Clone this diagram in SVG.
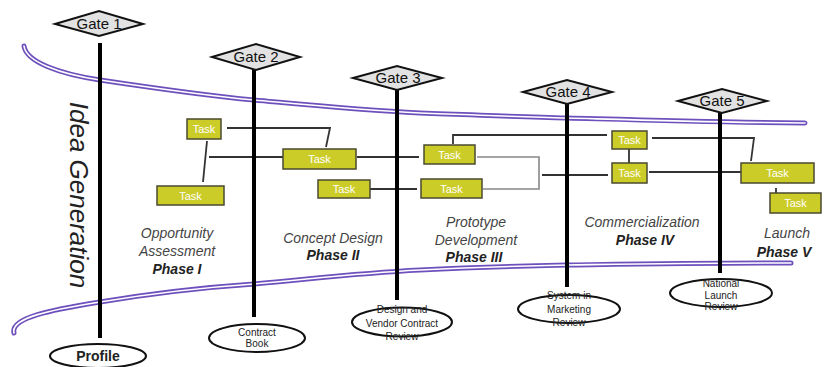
<svg xmlns="http://www.w3.org/2000/svg" width="838" height="367" viewBox="0 0 838 367">
<style>
.gate{fill:#e2e2e2;stroke:#111;stroke-width:2}
.gt{font-family:"Liberation Sans",Arial,sans-serif;font-size:15px;fill:#111;text-anchor:middle}
.pole{stroke:#000;stroke-width:4}
.ell{fill:#fff;stroke:#111;stroke-width:2}
.et{font-family:"Liberation Sans",Arial,sans-serif;font-size:10px;fill:#222;text-anchor:middle}
.task{fill:#cccc29;stroke:#4a4a30;stroke-width:1.5}
.tt{font-family:"Liberation Sans",Arial,sans-serif;font-size:11px;fill:#fff;text-anchor:middle}
.con{fill:none;stroke:#333;stroke-width:1.8}
.conl{fill:none;stroke:#888;stroke-width:1.6}
.po{fill:none;stroke:#6e50bd;stroke-width:5;stroke-linecap:round}
.pi{fill:none;stroke:#fff;stroke-width:1.6;stroke-linecap:round}
.ph{font-family:"Liberation Sans",Arial,sans-serif;font-size:14px;font-style:italic;fill:#444;text-anchor:middle}
.pb{font-family:"Liberation Sans",Arial,sans-serif;font-size:14px;font-style:italic;font-weight:bold;fill:#222;text-anchor:middle}
</style>
<rect width="838" height="367" fill="#fff"/>
<g id="curves">
<path id="topcurve" class="po" d="M24,46 C26,62 60,74 100,80 C160,89 210,96 254,100 C320,106 360,110 420,113 C480,115 520,117 567,118 C640,120 700,122 805,123"/>
<path class="pi" d="M24,46 C26,62 60,74 100,80 C160,89 210,96 254,100 C320,106 360,110 420,113 C480,115 520,117 567,118 C640,120 700,122 805,123"/>
<path id="botcurve" class="po" d="M14,333 C10,318 50,310 100,302 C160,292 210,287 254,284 C320,278 360,273 420,270 C480,267 520,266 567,265 C640,264 700,263 791,263"/>
<path class="pi" d="M14,333 C10,318 50,310 100,302 C160,292 210,287 254,284 C320,278 360,273 420,270 C480,267 520,266 567,265 C640,264 700,263 791,263"/>
</g>
<text transform="translate(70,195) rotate(90)" font-family="'Liberation Sans',Arial,sans-serif" font-size="26" font-style="italic" fill="#222" text-anchor="middle">Idea Generation</text>
<g id="connectors">
<polyline class="con" points="227,128 330,128 326,147"/>
<line class="con" x1="207" y1="141" x2="203" y2="182"/>
<line class="con" x1="209" y1="157" x2="283" y2="157"/>
<line class="con" x1="357" y1="157" x2="419" y2="157"/>
<line class="con" x1="370" y1="189" x2="417" y2="189"/>
<polyline class="con" points="453,144 453,135 607,135"/>
<polyline class="conl" points="477,157 539,157 539,189 483,189"/>
<line class="con" x1="542" y1="175" x2="608" y2="175"/>
<line class="con" x1="629" y1="149" x2="629" y2="163"/>
<polyline class="con" points="652,138 754,138 751,161"/>
<line class="con" x1="649" y1="172" x2="741" y2="172"/>
<line class="con" x1="776" y1="188" x2="776" y2="193"/>
</g>
<g id="gate1">
<line class="pole" x1="100" y1="43" x2="100" y2="338"/>
<polygon class="gate" points="55,24 99,11 143,24 99,36"/>
<text class="gt" x="99" y="29">Gate 1</text>
<ellipse class="ell" cx="98" cy="356" rx="48" ry="12"/>
<text x="98" y="361" font-family="'Liberation Sans',Arial,sans-serif" font-size="14" font-weight="bold" fill="#222" text-anchor="middle">Profile</text>
</g>
<g id="gate2">
<line class="pole" x1="254" y1="68" x2="254" y2="317"/>
<polygon class="gate" points="212,57 256,44 300,57 256,70"/>
<text class="gt" x="256" y="62">Gate 2</text>
<ellipse class="ell" cx="257" cy="338" rx="48" ry="14"/>
<text class="et" x="257" y="335.5">Contract</text>
<text class="et" x="257" y="347">Book</text>
</g>
<g id="gate3">
<line class="pole" x1="397" y1="88" x2="397" y2="300"/>
<polygon class="gate" points="353,78 397,66 442,78 397,90"/>
<text class="gt" x="398" y="83">Gate 3</text>
<ellipse class="ell" cx="402" cy="322" rx="50" ry="14.5"/>
<text class="et" x="402" y="313">Design and</text>
<text class="et" x="402" y="327">Vendor Contract</text>
<text class="et" x="402" y="340">Review</text>
</g>
<g id="gate4">
<line class="pole" x1="567" y1="101" x2="567" y2="287"/>
<polygon class="gate" points="523,92 567,80 612,92 567,104"/>
<text class="gt" x="568" y="97">Gate 4</text>
<ellipse class="ell" cx="569" cy="309" rx="51" ry="14"/>
<text class="et" x="569" y="298.5">System in</text>
<text class="et" x="569" y="312.5">Marketing</text>
<text class="et" x="569" y="325.5">Review</text>
</g>
<g id="gate5">
<line class="pole" x1="720" y1="111" x2="720" y2="273"/>
<polygon class="gate" points="678,101 722,89 767,101 722,113"/>
<text class="gt" x="722" y="106">Gate 5</text>
<ellipse class="ell" cx="721" cy="293" rx="51" ry="14"/>
<text class="et" x="721" y="286.5">National</text>
<text class="et" x="721" y="298.5">Launch</text>
<text class="et" x="721" y="310">Review</text>
</g>
<g id="task1"><rect class="task" x="187" y="119" width="34" height="20"/><text class="tt" x="204" y="133">Task</text></g>
<g id="task2"><rect class="task" x="283" y="149" width="73" height="20"/><text class="tt" x="319.5" y="163">Task</text></g>
<g id="task3"><rect class="task" x="157" y="186" width="67" height="19"/><text class="tt" x="190.5" y="199.5">Task</text></g>
<g id="task4"><rect class="task" x="318" y="180" width="52" height="18"/><text class="tt" x="344" y="193">Task</text></g>
<g id="task5"><rect class="task" x="424" y="145" width="51" height="19"/><text class="tt" x="449.5" y="158.5">Task</text></g>
<g id="task6"><rect class="task" x="421" y="179" width="61" height="19"/><text class="tt" x="451.5" y="192.5">Task</text></g>
<g id="task7"><rect class="task" x="612" y="131" width="35" height="18"/><text class="tt" x="629.5" y="144">Task</text></g>
<g id="task8"><rect class="task" x="612" y="163" width="35" height="20"/><text class="tt" x="629.5" y="177">Task</text></g>
<g id="task9"><rect class="task" x="741" y="163" width="73" height="20"/><text class="tt" x="777.5" y="177">Task</text></g>
<g id="task10"><rect class="task" x="770" y="193" width="51" height="20"/><text class="tt" x="795.5" y="207">Task</text></g>
<g id="phases">
<text class="ph" x="177" y="238">Opportunity</text>
<text class="ph" x="177" y="256">Assessment</text>
<text class="pb" x="177" y="274">Phase I</text>
<text class="ph" x="333" y="243">Concept Design</text>
<text class="pb" x="333" y="260">Phase II</text>
<text class="ph" x="476" y="227">Prototype</text>
<text class="ph" x="476" y="245">Development</text>
<text class="pb" x="474" y="262">Phase III</text>
<text class="ph" x="642" y="227">Commercialization</text>
<text class="pb" x="645" y="245">Phase IV</text>
<text class="ph" x="787" y="238" text-anchor="start">Launch</text>
<text class="pb" x="784" y="257" text-anchor="start">Phase V</text>
</g>
</svg>
